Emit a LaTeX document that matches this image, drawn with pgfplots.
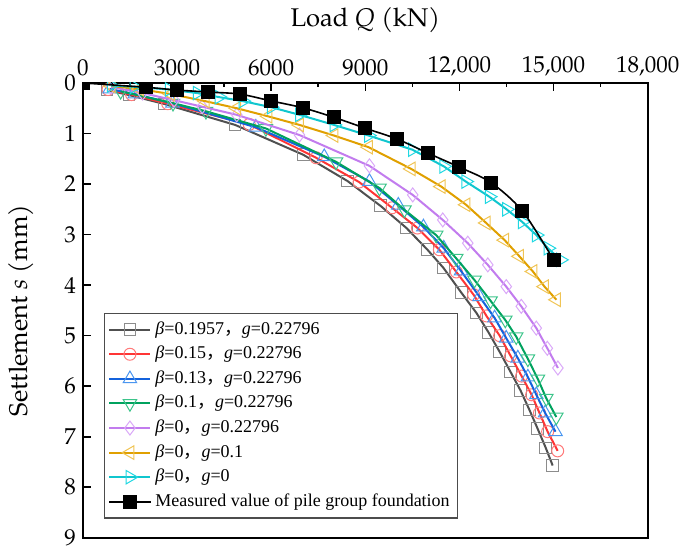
\documentclass[border=0pt]{standalone}
\usepackage{pgfplots}
\pgfplotsset{compat=1.18}
\usepackage{fontspec}
\setmainfont{TeX Gyre Pagella}
\newfontfamily\legfont{Liberation Serif}
\newfontfamily\cjk{Noto Sans CJK SC}

\definecolor{cGray}{HTML}{505050}\definecolor{mGray}{HTML}{8C8C8C}
\definecolor{cRed}{HTML}{FF3535}\definecolor{mRed}{HTML}{FF7A7A}
\definecolor{cBlue}{HTML}{1462DC}\definecolor{mBlue}{HTML}{4A96F0}
\definecolor{cGreen}{HTML}{00A25E}\definecolor{mGreen}{HTML}{3CC48A}
\definecolor{cPurple}{HTML}{C27CEE}\definecolor{mPurple}{HTML}{DAA8F8}
\definecolor{cOrange}{HTML}{E0A000}\definecolor{mOrange}{HTML}{F0C454}
\definecolor{cCyan}{HTML}{10C6CE}\definecolor{mCyan}{HTML}{20D8E2}

\pgfplotstableread{
Q s
770 0.14
1470 0.24
2590 0.415
4850 0.83
7020 1.42
8430 1.94
9480 2.43
10310 2.87
10980 3.30
11490 3.66
12060 4.15
12540 4.55
12930 4.94
13280 5.32
13630 5.72
13950 6.09
14230 6.47
14490 6.84
14750 7.22
14970 7.57
}\tGray
\pgfplotstableread{
Q s
800 0.13
1550 0.23
2700 0.41
5300 0.82
7430 1.48
8800 1.96
9850 2.47
10660 2.87
11360 3.30
11900 3.74
12450 4.19
12860 4.61
13280 5.00
13630 5.40
13980 5.80
14300 6.17
14550 6.53
14810 6.90
15130 7.28
}\tRed
\pgfplotstableread{
Q s
850 0.12
1650 0.22
2850 0.40
5510 0.876
7690 1.46
9130 1.95
10050 2.42
10850 2.85
11500 3.27
12050 3.72
12640 4.23
13120 4.65
13490 5.05
13860 5.445
14180 5.82
14450 6.17
14730 6.53
15060 6.90
}\tBlue
\pgfplotstableread{
Q s
1200 0.165
2870 0.40
3920 0.56
5830 0.90
8065 1.56
9450 2.08
10245 2.51
11256 3.01
11895 3.47
12479 3.90
12990 4.31
13460 4.69
13809 5.02
14180 5.46
14499 5.86
14767 6.24
15086 6.61
}\tGreen
\pgfplotstableread{
Q s
900 0.08
1900 0.20
2900 0.34
3800 0.47
4900 0.63
6900 1.03
9130 1.64
10510 2.215
11467 2.71
12265 3.17
12903 3.60
13490 4.03
13969 4.42
14448 4.85
14800 5.25
15137 5.64
}\tPurple
\pgfplotstableread{
Q s
900 0.06
1800 0.12
2800 0.22
3900 0.36
4900 0.50
5900 0.66
6900 0.83
8000 1.04
9100 1.27
10460 1.70
11420 2.05
12210 2.41
12850 2.77
13440 3.11
13910 3.43
14340 3.73
14710 4.03
15090 4.29
}\tOrange
\pgfplotstableread{
Q s
900 0.05
1630 0.075
2750 0.13
3640 0.20
4340 0.28
5100 0.36
6000 0.48
6900 0.63
8000 0.83
9100 1.04
10500 1.32
11500 1.65
12200 1.95
12950 2.25
13500 2.50
14000 2.75
14450 3.01
14820 3.27
15220 3.50
}\tCyan
\pgfplotstableread{
Q s
0 0
2000 0.085
3000 0.14
4000 0.18
5000 0.22
6000 0.356
7000 0.49
8000 0.68
9000 0.896
10000 1.107
11000 1.39
12000 1.667
13000 1.97
14000 2.53
15000 3.50
}\tMeas

\begin{document}
\begin{tikzpicture}
\begin{axis}[
  scale only axis, width=282.5pt, height=227.5pt,
  xmin=0, xmax=18000, ymin=0, ymax=9, y dir=reverse,
  xtick={0,3000,...,18000},
  xticklabels={0,3000,6000,9000,{12,000},{15,000},{18,000}},
  minor xtick={1500,4500,...,16500},
  ytick={0,1,...,9},
  xticklabel pos=top, xtick pos=top, ytick pos=left,
  tick align=inside,
  major tick length=4pt, minor tick length=2pt,
  tick style={black, line width=0.8pt},
  axis line style={black, line width=0.9pt},
  scaled x ticks=false,
  /pgf/number format/assume math mode=true,
  tick label style={font=\fontsize{11.5}{13}\selectfont},
  label style={font=\fontsize{12.8}{15}\selectfont},
  xlabel={Load \textit{Q} (kN)},
  ylabel={Settlement \textit{s} (mm)},
  xlabel style={yshift=5pt},
  ylabel style={yshift=8.5pt},
  clip marker paths=true,
  legend cell align=left,
  legend style={at={(0.037,0.042)}, anchor=south west,
    draw=black!70, line width=0.6pt, inner xsep=2pt, inner ysep=2pt,
    font=\legfont\fontsize{9}{11}\selectfont,
    nodes={inner ysep=1.4pt, text height=7pt, text depth=2.5pt}},
  legend image code/.code={\draw[mark repeat=2,mark phase=2] plot coordinates {(0cm,0cm) (0.36cm,0cm) (0.72cm,0cm)};},
  every axis plot/.append style={line width=1pt},
]
\addplot[cGray, mark=square, mark size=2.9pt, mark options={solid, draw=mGray, fill=white, line width=0.5pt}] table[x=Q,y=s] {\tGray};
\addlegendentry{\textit{β}=0.1957{\cjk ，}\textit{g}=0.22796}
\addplot[cRed, mark=o, mark size=3pt, mark options={solid, draw=mRed, fill=white, line width=0.5pt}] table[x=Q,y=s] {\tRed};
\addlegendentry{\textit{β}=0.15{\cjk ，}\textit{g}=0.22796}
\addplot[cBlue, mark=triangle, mark size=3.9pt, mark options={solid, draw=mBlue, fill=white, line width=0.5pt}] table[x=Q,y=s] {\tBlue};
\addlegendentry{\textit{β}=0.13{\cjk ，}\textit{g}=0.22796}
\addplot[cGreen, mark=triangle, mark size=3.9pt, mark options={solid, rotate=180, draw=mGreen, fill=white, line width=0.5pt}] table[x=Q,y=s] {\tGreen};
\addlegendentry{\textit{β}=0.1{\cjk ，}\textit{g}=0.22796}
\addplot[cPurple, mark=diamond, mark size=3.5pt, mark options={solid, draw=mPurple, fill=white, line width=0.5pt}] table[x=Q,y=s] {\tPurple};
\addlegendentry{\textit{β}=0{\cjk ，}\textit{g}=0.22796}
\addplot[cOrange, mark=triangle, mark size=3.9pt, mark options={solid, rotate=90, draw=mOrange, fill=white, line width=0.5pt}] table[x=Q,y=s] {\tOrange};
\addlegendentry{\textit{β}=0{\cjk ，}\textit{g}=0.1}
\addplot[cCyan, mark=triangle, mark size=3.9pt, mark options={solid, rotate=-90, draw=mCyan, fill=white, line width=0.5pt}] table[x=Q,y=s] {\tCyan};
\addlegendentry{\textit{β}=0{\cjk ，}\textit{g}=0}
\addplot[black, line width=0.8pt, smooth, mark=square*, mark size=3.1pt, mark options={solid, fill=black}] table[x=Q,y=s] {\tMeas};
\addlegendentry{Measured value of pile group foundation}
\end{axis}
\path (current axis.south west) ++(-41.5pt,-7pt);
\path (current axis.north east) ++(19pt,41.5pt);
\end{tikzpicture}
\end{document}
